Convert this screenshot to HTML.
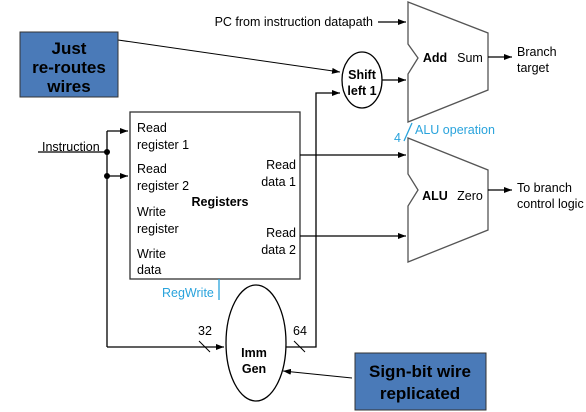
<!DOCTYPE html>
<html><head><style>body{margin:0;background:#fff}svg{display:block}text{font-family:"Liberation Sans",Arial,sans-serif;font-size:12.5px}</style></head><body>
<svg width="586" height="412" viewBox="0 0 586 412">
<defs><marker id="a" markerWidth="8" markerHeight="6" refX="8" refY="3" orient="auto" markerUnits="userSpaceOnUse"><path d="M0,0L8,3L0,6z" fill="#000"/></marker></defs>
<g fill="none" stroke="#000" stroke-width="1.3">
<path d="M408,2L488,33L488,90L408,122L408,74L418,58L408,44Z" stroke="#555"/>
<path d="M408,138L488,170L488,230L408,262L408,206L418,190L408,174Z" stroke="#555"/>
<rect x="130" y="112" width="170" height="167" stroke="#333"/>
<ellipse cx="362" cy="80" rx="20" ry="28"/>
<ellipse cx="256" cy="343" rx="30" ry="58"/>
<path d="M38,152H107M107,131V347" />
<path d="M107,131H128" marker-end="url(#a)"/>
<path d="M107,176H128" marker-end="url(#a)"/>
<path d="M107,347H224" marker-end="url(#a)"/>
<path d="M286,347H316V93H340" marker-end="url(#a)"/>
<path d="M300,155H406" marker-end="url(#a)"/>
<path d="M300,236H406" marker-end="url(#a)"/>
<path d="M382,80H406" marker-end="url(#a)"/>
<path d="M378,22H406" marker-end="url(#a)"/>
<path d="M488,57H512" marker-end="url(#a)"/>
<path d="M488,190H512" marker-end="url(#a)"/>
<path d="M118,40L340,72" stroke-width="1" marker-end="url(#a)"/>
<path d="M352,378L283,371" stroke-width="1" marker-end="url(#a)"/>
<path d="M199,341L210,352M294,341L305,352" stroke-width="1"/>
<path d="M219,279V300M412,123L404,141" stroke="#29a3dc"/>
</g>
<circle cx="107" cy="152" r="3"/><circle cx="107" cy="176" r="3"/>
<rect x="20" y="32" width="98" height="65" fill="#4a7ab8" stroke="#333"/>
<text x="69" y="54" text-anchor="middle" font-weight="bold" style="font-size:17px">Just</text>
<text x="69" y="73" text-anchor="middle" font-weight="bold" style="font-size:17px">re-routes</text>
<text x="69" y="92" text-anchor="middle" font-weight="bold" style="font-size:17px">wires</text>
<rect x="355" y="353" width="131" height="57" fill="#4a7ab8" stroke="#333"/>
<text x="420" y="377" text-anchor="middle" font-weight="bold" style="font-size:17px">Sign-bit wire</text>
<text x="420" y="399" text-anchor="middle" font-weight="bold" style="font-size:17px">replicated</text>
<text x="373" y="26" text-anchor="end">PC from instruction datapath</text>
<text x="435" y="62" text-anchor="middle" font-weight="bold">Add</text>
<text x="470" y="62" text-anchor="middle">Sum</text>
<text x="517" y="56">Branch</text><text x="517" y="72">target</text>
<text x="362" y="79" text-anchor="middle" font-weight="bold">Shift</text>
<text x="362" y="95" text-anchor="middle" font-weight="bold">left 1</text>
<text x="42" y="151">Instruction</text>
<text x="137" y="132">Read</text><text x="137" y="149">register 1</text>
<text x="137" y="173">Read</text><text x="137" y="190">register 2</text>
<text x="137" y="216">Write</text><text x="137" y="233">register</text>
<text x="137" y="258">Write</text><text x="137" y="274">data</text>
<text x="220" y="206" text-anchor="middle" font-weight="bold">Registers</text>
<text x="296" y="169" text-anchor="end">Read</text><text x="296" y="186" text-anchor="end">data 1</text>
<text x="296" y="237" text-anchor="end">Read</text><text x="296" y="254" text-anchor="end">data 2</text>
<text x="435" y="200" text-anchor="middle" font-weight="bold">ALU</text>
<text x="470" y="200" text-anchor="middle">Zero</text>
<text x="517" y="192">To branch</text><text x="517" y="208">control logic</text>
<text x="394" y="142" fill="#29a3dc">4</text>
<text x="415" y="134" fill="#29a3dc">ALU operation</text>
<text x="162" y="297" fill="#29a3dc">RegWrite</text>
<text x="198" y="335">32</text><text x="293" y="335">64</text>
<text x="254" y="357" text-anchor="middle" font-weight="bold">Imm</text>
<text x="254" y="373" text-anchor="middle" font-weight="bold">Gen</text>
</svg></body></html>
